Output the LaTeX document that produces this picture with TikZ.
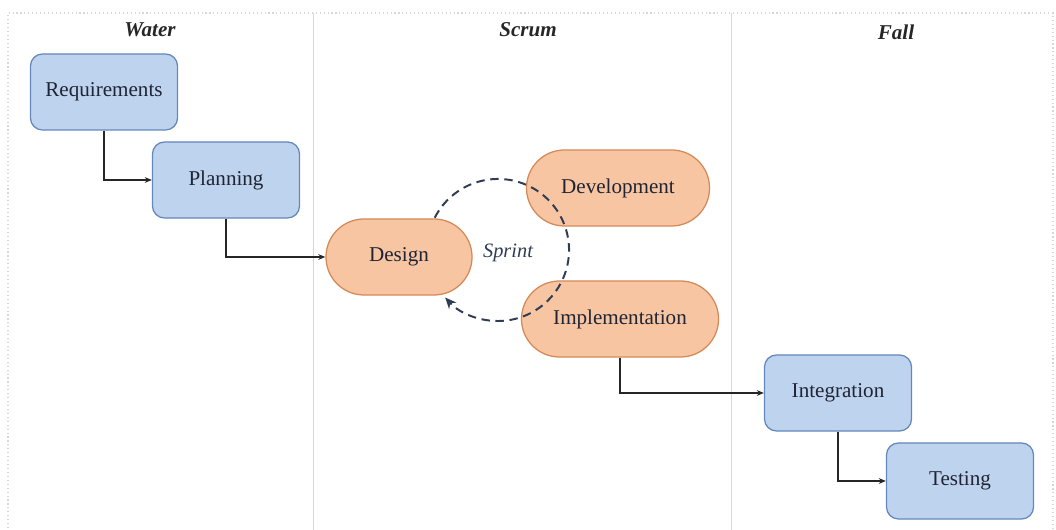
\documentclass[tikz,border=0pt]{standalone}
\usepackage{fontspec}
\setmainfont{Liberation Serif}
\usetikzlibrary{arrows.meta,positioning}
\definecolor{wfblue}{RGB}{190,211,238}
\definecolor{wfblueline}{RGB}{100,135,188}
\definecolor{scorange}{RGB}{247,197,162}
\definecolor{scorangeline}{RGB}{212,138,88}
\definecolor{inkdark}{RGB}{32,36,52}
\definecolor{sprintink}{RGB}{48,60,84}
\definecolor{lanegray}{RGB}{215,215,215}
\tikzset{
  phasebox/.style={draw=wfblueline,fill=wfblue,line width=0.9pt,rounded corners=0.3cm,
    minimum width=3.675cm,minimum height=1.9cm,text=inkdark,font=\fontsize{15}{17}\selectfont},
  sprintbox/.style={draw=scorangeline,fill=scorange,line width=0.9pt,rounded corners=0.95cm,
    minimum height=1.9cm,text=inkdark,font=\fontsize{15}{17}\selectfont},
  lanetitle/.style={font=\fontsize{15}{18}\selectfont\bfseries\itshape,text=black!85},
  flow/.style={draw=black!85,line width=0.9pt,-{Stealth[length=5pt,width=4pt]}},
  loopline/.style={draw=sprintink,line width=1.4pt,dash pattern=on 6pt off 4pt,-{Stealth[length=8pt,width=7pt]}}
}

\begin{document}
\begin{tikzpicture}[x=0.025cm,y=0.025cm]
  \useasboundingbox (0,0) rectangle (1056,530);
  % lanes
  \draw[lanegray,dotted,line width=0.8pt] (8,-10) -- (8,517) -- (1053,517) -- (1053,-10);
  \draw[lanegray,line width=0.6pt] (313,517) -- (313,-10);
  \draw[lanegray,line width=0.6pt] (731,517) -- (731,-10);
  % lane titles
  \node[lanetitle] (twater) at (150,500) {Water};
  \node[lanetitle] (tscrum) at (528,500) {Scrum};
  \node[lanetitle] (tfall) at (896,498) {Fall};
  % phases
  \node[phasebox] (req) at (104,438) {Requirements};
  \node[phasebox] (plan) at (226,350) {Planning};
  \node[sprintbox,minimum width=3.65cm] (design) at (399,273) {Design};
  \node[sprintbox,minimum width=4.575cm] (dev) at (618,342) {Development};
  \node[sprintbox,minimum width=4.925cm] (impl) at (620,211) {Implementation};
  \node[phasebox] (integ) at (838,137) {Integration};
  \node[phasebox] (test) at (960,49) {Testing};
  % flow
  \draw[flow] (req.south) |- (plan.west);
  \draw[flow] (plan.south) |- (design.west);
  \draw[flow] (impl.south) |- (integ.west);
  \draw[flow] (integ.south) |- (test.west);
  % sprint loop
  \coordinate (sc) at (498,280);
  \draw[loopline] ([shift={(153:1.775cm)}]sc) arc[start angle=153,end angle=-138,radius=1.775cm];
  \node[font=\fontsize{14.5}{17}\selectfont\itshape,text=sprintink] (sprint) at (508,277) {Sprint};
\end{tikzpicture}
\end{document}
